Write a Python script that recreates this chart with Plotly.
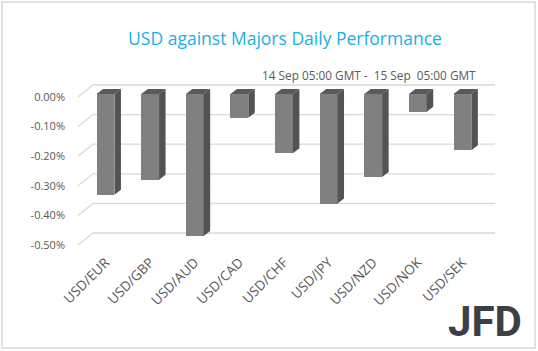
import plotly.graph_objects as go

categories = ["USD/EUR", "USD/GBP", "USD/AUD", "USD/CAD", "USD/CHF",
              "USD/JPY", "USD/NZD", "USD/NOK", "USD/SEK"]
values = [-0.34, -0.29, -0.48, -0.08, -0.20, -0.37, -0.28, -0.06, -0.19]
y_ticks = [0.0, -0.1, -0.2, -0.3, -0.4, -0.5]

W, H = 538, 351
ML, MR, MT, MB = 78, 43, 80, 103
plot_w = W - ML - MR
plot_h = H - MT - MB
x_range = [-0.617, 8.73]
y_range = [-0.5101, 0.0574]
px_x = (x_range[1] - x_range[0]) / plot_w
px_y = (y_range[1] - y_range[0]) / plot_h

xs = list(range(len(categories)))
bar_w = 0.40
bar_off = 3 * px_y          # bars sit slightly behind the front floor edge
ddx, ddy = 6.5 * px_x, 5 * px_y   # bar depth
gdx, gdy = 15 * px_x, 12 * px_y   # wall depth

fig = go.Figure()

# gridlines (back wall + floor diagonal) drawn below all traces
shapes = []
for v in y_ticks:
    shapes.append(dict(type="path", xref="x", yref="y", layer="below",
                       path=f"M {x_range[0]},{v} L {x_range[0] + gdx},{v + gdy} L {x_range[1]},{v + gdy}",
                       line=dict(color="#d9d9d9", width=1.3)))

# top faces
tx, ty = [], []
for x, v in zip(xs, values):
    l, r = x - bar_w / 2, x + bar_w / 2
    tx += [l, l + ddx, r + ddx, r, l, None]
    ty += [bar_off, bar_off + ddy, bar_off + ddy, bar_off, bar_off, None]
fig.add_trace(go.Scatter(x=tx, y=ty, mode="lines", fill="toself",
                         fillcolor="#5a5a5a", line=dict(width=0, color="#5a5a5a"),
                         hoverinfo="skip", showlegend=False))

# side faces
sx, sy = [], []
for x, v in zip(xs, values):
    r = x + bar_w / 2
    sx += [r, r + ddx, r + ddx, r, r, None]
    sy += [bar_off, bar_off + ddy, bar_off + v + ddy, bar_off + v, bar_off, None]
fig.add_trace(go.Scatter(x=sx, y=sy, mode="lines", fill="toself",
                         fillcolor="#535353", line=dict(width=0, color="#535353"),
                         hoverinfo="skip", showlegend=False))

# front faces
fig.add_trace(go.Bar(x=xs, y=values, base=[bar_off] * len(values), width=bar_w,
                     marker=dict(color="#808080", line=dict(width=0)),
                     showlegend=False))

shapes.append(dict(type="rect", xref="paper", yref="paper",
                   x0=(2 - ML) / plot_w, x1=(535 - ML) / plot_w,
                   y0=(H - MB - 348) / plot_h, y1=(H - MB - 2) / plot_h,
                   line=dict(color="#d9d9d9", width=1.5)))

fig.update_layout(
    width=W, height=H,
    margin=dict(l=ML, r=MR, t=MT, b=MB),
    paper_bgcolor="white", plot_bgcolor="white",
    font=dict(family="Open Sans, sans-serif", color="#595959", size=11),
    title=dict(text="USD against Majors Daily Performance",
               x=285 / W, xanchor="center", y=1 - 39 / H, yanchor="middle",
               font=dict(size=17.5, color="#1ab0e6", family="Open Sans, sans-serif")),
    xaxis=dict(range=x_range, tickmode="array", tickvals=xs, ticktext=categories,
               tickangle=-45, showgrid=False, zeroline=False, showline=False,
               ticks="", ticklabelstandoff=3,
               tickfont=dict(size=13.5, color="#595959")),
    yaxis=dict(range=y_range, tickmode="array", tickvals=y_ticks,
               ticktext=[f"{v:.2f}%" for v in y_ticks],
               showgrid=False, zeroline=False, showline=False, ticks="",
               ticklabelstandoff=12, tickfont=dict(size=11, color="#595959")),
    bargap=0,
    annotations=[
        dict(text="14 Sep 05:00 GMT -  15 Sep  05:00 GMT", xref="paper", yref="paper",
             x=(478 - ML) / plot_w, y=(H - MB - 75) / plot_h,
             xanchor="right", yanchor="middle", showarrow=False,
             font=dict(size=11.8, color="#595959")),
        dict(text="<b>JFD</b>", xref="paper", yref="paper",
             x=(524 - ML) / plot_w, y=(H - MB - 321) / plot_h,
             xanchor="right", yanchor="middle", showarrow=False,
             font=dict(size=42, color="#3b4047", family="Roboto, sans-serif")),
    ],
    shapes=shapes,
)

fig.write_html("out.html")
